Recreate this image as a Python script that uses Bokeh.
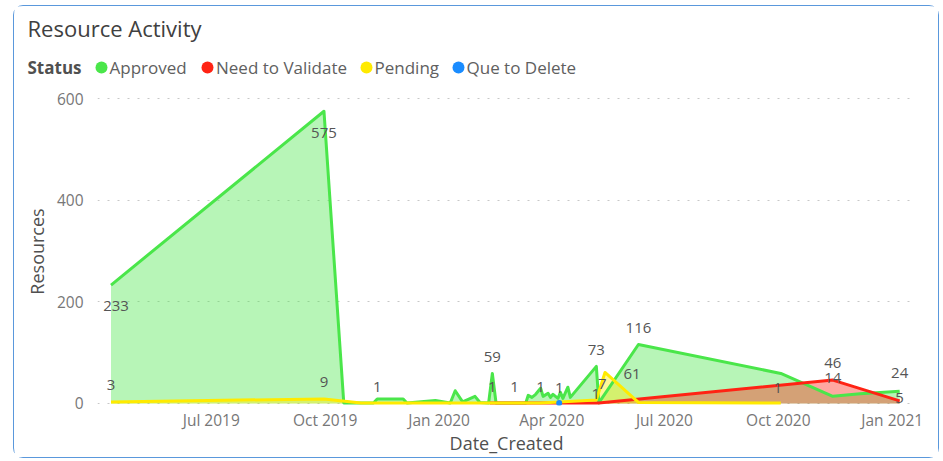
import pandas as pd
from bokeh.plotting import figure
from bokeh.layouts import column
from bokeh.models import ColumnDataSource, Range1d, FixedTicker
from bokeh.embed import file_html
from bokeh.resources import INLINE
from bokeh.core.properties import value

# ---------------- data ----------------
approved_dates = ["2019-04-11", "2019-09-30", "2019-10-16", "2019-11-09", "2019-11-12", "2019-12-03",
                  "2019-12-06", "2019-12-29", "2020-01-10", "2020-01-14", "2020-01-20", "2020-01-30",
                  "2020-02-03", "2020-02-10", "2020-02-13", "2020-02-16", "2020-03-11", "2020-03-13",
                  "2020-03-16", "2020-03-19", "2020-03-23", "2020-03-25", "2020-03-29", "2020-03-31",
                  "2020-04-02", "2020-04-06", "2020-04-08", "2020-04-10", "2020-04-14", "2020-04-16",
                  "2020-05-07", "2020-05-09", "2020-06-10", "2020-10-03", "2020-11-14", "2020-12-06",
                  "2021-01-07"]
approved_values = [233, 575, 1, 1, 9, 9,
                   1, 6, 1, 25, 3, 14,
                   2, 1, 59, 1, 1, 16,
                   12, 18, 30, 14, 20, 12,
                   18, 10, 22, 10, 32, 12,
                   73, 1, 116, 59, 14, 19,
                   24]

validate_dates = ["2020-02-11", "2020-05-09", "2020-11-14", "2021-01-07"]
validate_values = [1, 1, 46, 5]

pending_dates = ["2019-04-11", "2019-09-30", "2019-10-30", "2019-11-12", "2020-02-13", "2020-03-02",
                 "2020-03-23", "2020-05-07", "2020-05-14", "2020-06-10", "2020-10-03"]
pending_values = [3, 9, 1, 1, 1, 1,
                  1, 7, 61, 2, 1]

delete_dates = ["2020-04-07"]
delete_values = [1]

series_names = ["Approved", "Need to Validate", "Pending", "Que to Delete"]
series_colors = ["#4AE64A", "#FF2314", "#FFEA00", "#1A8CFF"]

tick_dates = ["2019-07-01", "2019-10-01", "2020-01-01", "2020-04-01", "2020-07-01", "2020-10-01", "2021-01-01"]
tick_labels = ["Jul 2019", "Oct 2019", "Jan 2020", "Apr 2020", "Jul 2020", "Oct 2020", "Jan 2021"]
y_ticks = [0, 200, 400, 600]

# data labels: (series index, point index)
label_series = [0, 0, 2, 2, 2, 0, 2, 2, 2, 3, 0, 2, 1, 2, 0, 2, 1, 0, 0, 1]
label_point = [0, 1, 0, 1, 3, 14, 4, 5, 6, 0, 30, 7, 1, 8, 32, 10, 2, 34, 36, 3]
# placement offsets (px) of each label relative to its point
label_dx = [5, 0, 0, 0, 0, 0, 0, 0, 0, 0, 0, 6, -3, 27, 0, -3, 0, 0, 0, 0]
label_dy = [21, 22, -17, -17, -16, -16, -16, -16, -16, -15, -16, -16, -9, 2, -17, -15, -17, -18, -18, -3]

# ---------------- layout ----------------
FONT = "Open Sans"
W = 924
H1 = 80                   # header (title + legend)
H2 = 451 - H1             # chart
ML, MR, MT, MB = 83, 23, 11, 52

# ---- header figure: title and legend ----
hdr = figure(width=W, height=H1, output_backend="svg", toolbar_location=None, title=None,
             x_axis_location=None, y_axis_location=None,
             x_range=Range1d(0, W), y_range=Range1d(0, H1),
             min_border=0, min_border_left=0, min_border_right=0, min_border_top=0, min_border_bottom=0,
             background_fill_color="white", border_fill_color="white")
hdr.grid.visible = False
hdr.outline_line_color = None

hdr.text(x=[13], y=[58.5], text=["Resource Activity"], text_font=value(FONT),
         text_font_size="22px", text_color="#404040", text_baseline="middle")
hdr.text(x=[13], y=[19], text=["Status"], text_font=value(FONT), text_font_style="bold",
         text_font_size="17px", text_color="#505050", text_baseline="middle")
legend_text_x = [95, 201.5, 360, 452]
legend_dot_x = [87, 193, 352, 444]
hdr.text(x=legend_text_x, y=[19] * 4, text=series_names, text_font=value(FONT),
         text_font_size="17px", text_color="#606060", text_baseline="middle")
hdr.scatter(x=legend_dot_x, y=[19] * 4, size=12, fill_color=series_colors, line_color=None)

# ---- main chart ----
p = figure(width=W, height=H2, x_axis_type="datetime", output_backend="svg", toolbar_location=None,
           title=None,
           x_range=Range1d(pd.Timestamp("2019-03-31 02:00"), pd.Timestamp("2021-01-19 19:00")),
           y_range=Range1d(-4, 602),
           min_border_left=ML, min_border_right=MR, min_border_top=MT, min_border_bottom=MB,
           background_fill_color="white", border_fill_color="white")
p.outline_line_color = None

for fig in (hdr, p):
    try:
        fig.frame_align = False
    except Exception:
        pass

tick_ms = [float(t.value // 10**6) for t in pd.to_datetime(tick_dates)]
p.xaxis.ticker = FixedTicker(ticks=tick_ms)
p.xaxis.major_label_overrides = {ms: lab for ms, lab in zip(tick_ms, tick_labels)}
p.yaxis.ticker = FixedTicker(ticks=y_ticks)
for ax in (p.xaxis, p.yaxis):
    ax.axis_line_color = None
    ax.major_tick_line_color = None
    ax.minor_tick_line_color = None
    ax.major_tick_out = 0
    ax.major_tick_in = 0
    ax.major_label_text_font = FONT
    ax.major_label_text_font_size = "15.5px"
    ax.major_label_text_color = "#777777"
    ax.axis_label_text_font = FONT
    ax.axis_label_text_font_size = "18px"
    ax.axis_label_text_font_style = "normal"
    ax.axis_label_text_color = "#505050"
p.xaxis.axis_label = "Date_Created"
p.yaxis.axis_label = "Resources"
p.xaxis.major_label_standoff = 3
p.xaxis.axis_label_standoff = -3
p.yaxis.major_label_standoff = 14
p.yaxis.axis_label_standoff = 5
p.xgrid.visible = False
p.ygrid.grid_line_color = "#c8c8c8"
p.ygrid.grid_line_dash = "2 8"
p.ygrid.grid_line_width = 1

all_dates = [approved_dates, validate_dates, pending_dates, delete_dates]
all_values = [approved_values, validate_values, pending_values, delete_values]
sources = [ColumnDataSource(dict(x=pd.to_datetime(d), y=v)) for d, v in zip(all_dates, all_values)]

for i in range(3):
    p.varea(x="x", y1=0, y2="y", source=sources[i], fill_color=series_colors[i], fill_alpha=0.4)
for i in range(3):
    p.line(x="x", y="y", source=sources[i], line_color=series_colors[i], line_width=3,
           line_join="round")
p.scatter(x="x", y="y", source=sources[3], size=6, fill_color=series_colors[3], line_color=None)

lx, ly, lt = [], [], []
for s, i in zip(label_series, label_point):
    lx.append(pd.Timestamp(all_dates[s][i]))
    ly.append(all_values[s][i])
    lt.append(str(all_values[s][i]))
lab_src = ColumnDataSource(dict(x=lx, y=ly, text=lt, dx=label_dx, dy=label_dy))
p.text(x="x", y="y", text="text", source=lab_src, x_offset="dx", y_offset="dy",
       text_align="center", text_baseline="middle", text_font=value(FONT),
       text_font_size="15px", text_color="#555555")

layout = column(hdr, p, spacing=0,
                styles={"margin-left": "13px", "margin-top": "5px",
                        "border": "1px solid #5a98dc", "border-radius": "10px"})

open("out.html", "w").write(file_html(layout, INLINE))
